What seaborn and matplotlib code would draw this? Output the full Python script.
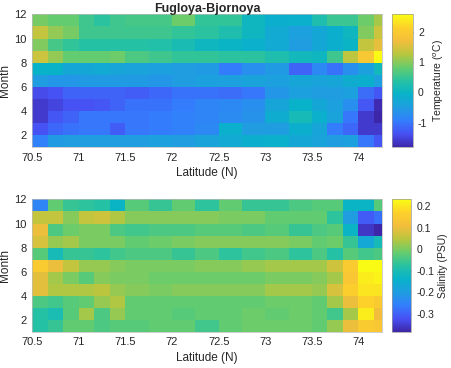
import numpy as np
import seaborn as sns
import matplotlib.pyplot as plt
from matplotlib.colors import LinearSegmentedColormap

# latitude cell edges (deg N) and month edges
lat_edges = [70.5, 70.6667, 70.8333, 71.0, 71.1667, 71.3333, 71.5, 71.75, 72.0,
             72.25, 72.5, 72.75, 73.0, 73.25, 73.5, 73.6667, 73.8333, 74.0,
             74.1667, 74.25]
month_ticks = [2, 4, 6, 8, 10, 12]
lat_ticks = [70.5, 71, 71.5, 72, 72.5, 73, 73.5, 74]

# temperature anomaly, rows from month 11-12 (top) down to month 1-2
temp = [
    [0.9, 0.8, 0.8, 0.55, 0.4, 0.55, 0.6, 0.6, 0.85, 0.45, 0.45, 0.05, -0.15, -0.1, 0.25, 0.5, 0.5, 0.85, 1.15],
    [1.35, 1.05, 0.9, 0.55, 0.55, 0.55, 0.55, 0.55, 0.45, 0.4, 0.25, 0.05, -0.25, -0.45, -0.3, -0.15, 0.05, 0.95, 1.4],
    [0.95, 0.6, 0.45, 0.35, 0.35, 0.35, 0.35, 0.3, 0.2, 0.05, 0.0, -0.1, -0.25, -0.5, -0.3, -0.15, 0.0, 1.35, 1.6],
    [1.4, 1.05, 0.8, 0.8, 0.8, 0.85, 0.65, 0.55, 0.45, 0.45, 0.4, 0.4, 0.25, 0.1, 0.05, 0.55, 1.3, 1.9, 2.57],
    [-0.05, -0.05, -0.3, -0.3, -0.25, -0.35, -0.4, -0.45, -0.5, -0.55, -0.95, -0.7, -0.55, -1.2, -0.8, -1.05, -0.7, -0.45, 0.1],
    [-0.5, -0.6, -0.6, -0.55, -0.55, -0.55, -0.55, -0.6, -0.5, -0.45, -0.45, -0.4, -0.45, -0.35, -0.4, -0.35, -0.2, -0.15, -0.45],
    [-1.42, -1.35, -1.2, -1.2, -1.2, -1.2, -1.25, -1.15, -1.05, -1.05, -1.1, -1.0, -0.6, -0.45, -0.5, -0.5, -0.45, -1.1, -1.3],
    [-1.6, -1.5, -1.35, -1.35, -1.3, -1.2, -1.05, -1.05, -0.95, -0.85, -0.8, -0.7, -0.35, -0.05, -0.3, -0.45, -0.7, -1.3, -1.75],
    [-1.6, -1.3, -1.2, -1.0, -1.0, -1.0, -1.0, -0.95, -0.9, -0.85, -0.75, -0.65, -0.2, 0.15, -0.1, -0.4, -1.0, -1.6, -1.8],
    [-1.35, -1.15, -1.05, -1.0, -1.0, -1.25, -1.0, -0.95, -0.9, -0.8, -0.1, -0.5, -0.5, -0.15, -0.35, -0.95, -1.15, -1.6, -1.6],
    [-0.9, -0.55, -0.5, -0.5, -0.5, -0.5, -0.5, -0.45, -0.5, -0.4, -0.25, -0.15, -0.1, -0.3, -0.4, -0.5, -0.45, -1.0, -1.3],
]

# salinity anomaly, same layout
sal = [
    [-0.25, -0.02, -0.06, -0.07, -0.08, -0.13, -0.03, -0.06, -0.02, -0.07, -0.02, -0.06, -0.06, -0.04, -0.03, -0.03, -0.13, -0.13, -0.03],
    [0.06, 0.06, 0.01, 0.06, 0.07, 0.04, 0.01, 0.01, 0.01, 0.01, 0.0, 0.0, -0.02, -0.02, -0.02, -0.07, -0.2, -0.31, -0.28],
    [0.1, -0.04, -0.01, 0.0, 0.0, -0.04, -0.05, -0.04, -0.04, -0.03, -0.03, -0.04, -0.03, -0.06, -0.04, -0.03, -0.13, -0.36, -0.385],
    [0.08, 0.02, 0.03, 0.0, 0.0, 0.0, -0.02, -0.01, 0.0, 0.01, 0.01, 0.01, 0.01, 0.0, -0.02, -0.01, -0.06, -0.17, -0.11],
    [-0.03, -0.11, -0.06, -0.06, -0.07, -0.05, -0.04, -0.04, -0.06, -0.04, -0.07, -0.05, -0.04, -0.07, -0.04, -0.08, -0.03, -0.05, -0.04],
    [0.15, 0.1, 0.06, 0.02, 0.02, 0.01, 0.0, 0.0, 0.0, 0.01, 0.01, 0.02, 0.03, 0.03, 0.03, 0.07, 0.15, 0.23, 0.23],
    [0.09, 0.03, 0.0, -0.03, 0.01, 0.0, 0.0, -0.01, -0.01, -0.01, -0.01, -0.01, 0.0, 0.0, 0.01, 0.03, 0.14, 0.21, 0.22],
    [0.09, 0.04, 0.04, 0.04, 0.05, 0.02, 0.01, 0.0, 0.01, 0.01, 0.01, 0.01, 0.03, 0.03, 0.02, 0.08, 0.16, 0.2, 0.2],
    [-0.04, -0.05, -0.03, -0.02, 0.02, 0.04, -0.02, -0.02, -0.02, -0.02, -0.02, -0.02, -0.01, -0.01, -0.02, 0.03, 0.1, 0.17, 0.15],
    [-0.08, -0.1, -0.03, 0.03, -0.04, 0.02, -0.02, -0.02, -0.03, -0.02, -0.02, -0.01, -0.02, -0.01, -0.02, -0.05, 0.03, 0.21, 0.11],
    [-0.08, -0.06, -0.02, -0.02, -0.04, -0.03, -0.03, -0.02, -0.02, -0.05, -0.02, -0.01, -0.01, -0.01, -0.02, 0.02, 0.1, 0.15, 0.14],
]

# parula-like colormap (newer MATLAB look)
parula_pts = [
    (0.00, (0.2422, 0.1504, 0.6603)),
    (0.10, (0.2776, 0.3163, 0.9581)),
    (0.20, (0.1985, 0.4960, 0.9884)),
    (0.30, (0.1196, 0.6196, 0.8773)),
    (0.40, (0.0300, 0.7000, 0.7900)),
    (0.50, (0.1540, 0.7599, 0.6353)),
    (0.60, (0.4000, 0.8000, 0.4300)),
    (0.70, (0.7198, 0.7782, 0.2437)),
    (0.80, (0.9478, 0.7437, 0.2362)),
    (0.90, (0.9948, 0.8176, 0.1672)),
    (1.00, (0.9769, 0.9839, 0.0805)),
]
parula = LinearSegmentedColormap.from_list('parula', parula_pts)

sns.set_style('white')
plt.rcParams['font.family'] = ['Liberation Sans', 'DejaVu Sans']

# cells are multiples of 1/12 degree wide; repeat columns to draw on a regular grid
res = 12
widths = np.round(np.diff(lat_edges) * res).astype(int)

fig = plt.figure(figsize=(4.52, 3.68), dpi=100)
ax1 = fig.add_axes([0.0715, 0.600, 0.773, 0.361])
cax1 = fig.add_axes([0.867, 0.600, 0.047, 0.361])
ax2 = fig.add_axes([0.0715, 0.098, 0.773, 0.360])
cax2 = fig.add_axes([0.867, 0.098, 0.043, 0.360])

panels = [
    (ax1, cax1, temp, -1.81, 2.57, [-1, 0, 1, 2], 'Temperature ($^o$C)'),
    (ax2, cax2, sal, -0.385, 0.232, [-0.3, -0.2, -0.1, 0, 0.1, 0.2], 'Salinity (PSU)'),
]

for ax, cax, vals, vmin, vmax, cticks, clabel in panels:
    grid = np.repeat(np.array(vals), widths, axis=1)
    sns.heatmap(grid, ax=ax, cmap=parula, vmin=vmin, vmax=vmax, cbar_ax=cax,
                xticklabels=False, yticklabels=False)
    ax.set_xticks([(t - lat_edges[0]) * res for t in lat_ticks])
    ax.set_xticklabels([f'{t:g}' for t in lat_ticks], fontsize=8, color='#262626')
    ax.set_yticks([12 - m for m in month_ticks])
    ax.set_yticklabels([str(m) for m in month_ticks], fontsize=8, color='#262626', rotation=0)
    ax.tick_params(direction='in', length=2.5, width=0.5, color='#555555', pad=4)
    for s in ax.spines.values():
        s.set_visible(True)
        s.set_linewidth(0.5)
        s.set_color('#bbbbbb')
    ax.set_xlabel('Latitude (N)', fontsize=8.5, color='#262626', labelpad=3)
    ax.set_ylabel('Month', fontsize=8.5, color='#262626', labelpad=2)

    cb = ax.collections[0].colorbar
    cb.set_ticks(cticks)
    cb.set_ticklabels([f'{t:g}' for t in cticks])
    cb.ax.tick_params(labelsize=7.5, direction='in', length=2, width=0.5, colors='#262626')
    cb.outline.set_visible(True)
    cb.outline.set_linewidth(0.5)
    cb.outline.set_edgecolor('#999999')
    cb.set_label(clabel, fontsize=7.5, color='#262626', labelpad=3)

ax1.set_title('Fugloya-Bjornoya', fontsize=9, fontweight='bold', pad=2)

fig.savefig('out.png', dpi=100)
